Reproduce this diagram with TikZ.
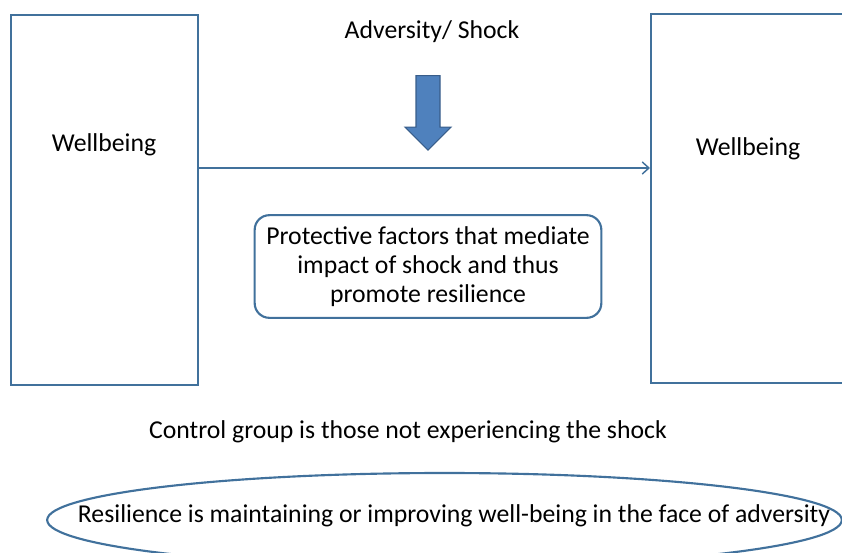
\documentclass[tikz,border=0pt]{standalone}
\usepackage{fontspec}
\setmainfont{Carlito}
\usetikzlibrary{shapes,shapes.arrows,arrows.meta,positioning}
\definecolor{boxblue}{HTML}{41719C}
\definecolor{arrowblue}{HTML}{4F81BD}
\definecolor{arrowedge}{HTML}{385D8A}

\begin{document}
\begin{tikzpicture}[
        x=0.75pt, y=-0.75pt,
        every node/.style={font=\fontsize{19.3}{21.75}\selectfont, align=center},
        panel/.style={draw=boxblue, line width=1.6pt, minimum width=140pt, minimum height=278pt, inner sep=0},
        factors/.style={draw=boxblue, line width=1.6pt, rounded corners=11pt, minimum width=260pt, minimum height=77pt},
        link/.style={draw=boxblue, line width=1.1pt}
    ]
    \useasboundingbox (0,0) rectangle (842,553);
    \clip (0,0) rectangle (842,553);

    % Nodes
    \node (wellL)[panel] at (104.5,200) {};
    \node (wellLtxt) at (104,145) {Wellbeing};

    \node (wellR)[panel, minimum width=250pt, minimum height=277pt, anchor=north west] at (650,13) {};
    \node (wellRtxt) at (748,149) {Wellbeing};

    \node (advers) at (432,32) {Adversity/ Shock};

    \node (shock)[single arrow, rotate=-90, fill=arrowblue, draw=arrowedge, line width=0.8pt,
        minimum height=56pt, single arrow head extend=8.25pt,
        inner xsep=0, inner ysep=8.6pt, anchor=tail] at (428,75) {};

    \node (protect)[factors] at (428,266.5) {Protective factors that mediate\\
        impact of shock and thus\\
        promote resilience};

    \node (control) at (408,432) {Control group is those not experiencing the shock};

    \node (resil)[ellipse, draw=boxblue, line width=1.6pt, minimum width=596pt, minimum height=70.5pt,
        inner sep=0] at (444.5,520) {};
    \node (resiltxt) at (454,516) {Resilience is maintaining or improving well-being in the face of adversity};

    % Edges
    \draw[link, -{Straight Barb[length=5pt,width=9pt]}] (wellL.east |- 0,168) -- (wellR.west |- 0,168);

\end{tikzpicture}
\end{document}
